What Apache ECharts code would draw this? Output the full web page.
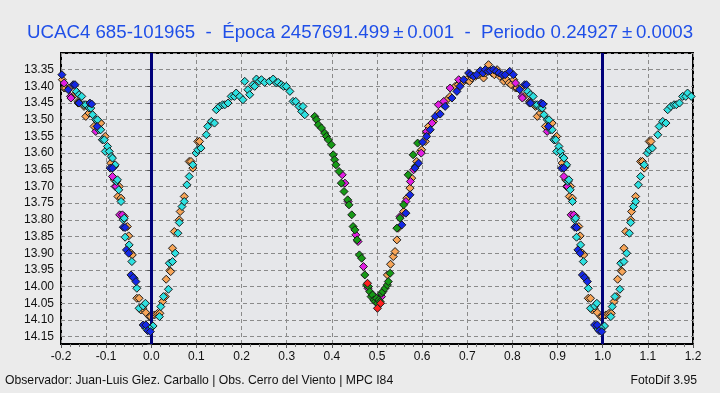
<!DOCTYPE html>
<html>
<head>
<meta charset="utf-8">
<script src="https://cdn.jsdelivr.net/npm/echarts@6/dist/echarts.min.js"></script>
<style>
html,body{margin:0;padding:0;background:#ebebeb;}
#chart{width:720px;height:393px;}
</style>
</head>
<body>
<div id="chart"></div>
<script>
// Phase-folded light curve, phases 0..1 (displayed wrapped to -0.2..1.2)
const titleText = 'UCAC4 685-101965  -  Época 2457691.499\u2009\u00b1\u20090.001  -  Periodo 0.24927\u2009\u00b1\u20090.0003';
const footerLeft = 'Observador: Juan-Luis Glez. Carballo | Obs. Cerro del Viento | MPC I84';
const footerRight = 'FotoDif 3.95';
const markerPhases = [0, 1];

const orangePts = [
[0.007,14.085],[0.014,14.08],[0.019,14.08],[0.025,14.045],[0.031,14.03],[0.033,13.978],[0.041,13.952],[0.043,13.955],
[0.047,13.885],[0.051,13.835],[0.062,13.80],[0.064,13.775],[0.073,13.73],[0.084,13.625],[0.088,13.625],[0.092,13.645],
[0.103,13.565],[0.107,13.565],
[0.523,13.965],[0.530,13.933],[0.536,13.91],[0.540,13.895],[0.544,13.86],[0.547,13.825],[0.559,13.775],[0.566,13.735],
[0.573,13.705],[0.577,13.675],[0.588,13.625],[0.596,13.595],[0.599,13.59],[0.607,13.565],[0.610,13.54],[0.614,13.52],
[0.625,13.505],[0.636,13.48],[0.647,13.455],[0.655,13.44],[0.662,13.43],[0.673,13.40],[0.680,13.395],[0.688,13.39],
[0.699,13.38],[0.705,13.385],[0.710,13.375],[0.718,13.37],[0.725,13.365],[0.736,13.375],[0.740,13.36],[0.747,13.335],
[0.755,13.36],[0.760,13.365],[0.766,13.35],[0.772,13.37],[0.781,13.385],[0.787,13.38],[0.792,13.39],[0.797,13.395],
[0.803,13.38],[0.807,13.405],[0.810,13.405],[0.818,13.405],[0.826,13.43],[0.838,13.445],[0.851,13.46],[0.855,13.49],
[0.862,13.48],[0.873,13.52],[0.881,13.52],[0.884,13.505],[0.888,13.51],[0.898,13.55],[0.910,13.63],[0.918,13.68],
[0.926,13.73],[0.929,13.70],[0.933,13.735],[0.936,13.79],[0.940,13.79],[0.947,13.82],[0.950,13.848],[0.955,13.90],
[0.958,13.905],[0.968,14.035],[0.973,14.035],[0.977,14.07],[0.981,14.065],[0.988,14.078],[0.996,14.09],[0.999,14.09]
];
const magentaPts = [
[0.423,13.665],[0.429,13.69],[0.436,13.745],[0.453,13.845],[0.458,13.865],[0.470,13.94],[0.480,14.005],[0.495,14.03],
[0.503,14.035],[0.510,14.03],[0.551,13.79],[0.564,13.745],[0.574,13.685],[0.581,13.65],[0.598,13.60],[0.610,13.535],
[0.622,13.51],[0.636,13.455],[0.648,13.445],[0.662,13.405],[0.681,13.38],[0.807,13.39],[0.821,13.43],[0.822,13.435],
[0.877,13.535],[0.892,13.56],[0.914,13.67],[0.920,13.70],[0.922,13.70],[0.930,13.785],[0.936,13.785]
];
const greenPts = [
[0.362,13.49],[0.366,13.50],[0.370,13.515],[0.377,13.525],[0.384,13.54],[0.388,13.55],[0.392,13.56],[0.399,13.575],
[0.403,13.605],[0.406,13.62],[0.409,13.635],[0.416,13.655],[0.421,13.69],[0.427,13.715],[0.435,13.74],[0.438,13.755],
[0.444,13.785],[0.447,13.82],[0.451,13.83],[0.456,13.86],[0.461,13.905],[0.466,13.915],[0.473,13.965],[0.477,13.995],
[0.481,14.00],[0.484,14.015],[0.487,14.03],[0.490,14.025],[0.493,14.04],[0.496,14.045],[0.499,14.035],[0.501,14.05],
[0.504,14.04],[0.507,14.045],[0.510,14.02],[0.513,14.015],[0.518,14.005],[0.523,13.995],[0.525,13.985],[0.529,13.96],
[0.544,13.825],[0.551,13.795],[0.559,13.755],[0.569,13.665],[0.580,13.605],[0.585,13.64],[0.590,13.57]
];
const redPts = [
[0.479,13.99],[0.501,14.065],[0.508,14.05]
];
const cyanPts = [
[0.004,14.118],[0.018,14.09],[0.021,14.06],[0.027,14.03],[0.038,14.008],[0.040,13.93],[0.047,13.925],[0.053,13.90],
[0.059,13.84],[0.062,13.808],[0.068,13.76],[0.073,13.745],[0.079,13.695],[0.084,13.67],[0.092,13.635],[0.099,13.60],
[0.103,13.59],[0.110,13.585],[0.122,13.545],[0.125,13.52],[0.133,13.505],[0.140,13.51],[0.144,13.47],[0.151,13.46],
[0.158,13.455],[0.163,13.455],[0.170,13.45],[0.177,13.43],[0.184,13.43],[0.188,13.42],[0.196,13.43],[0.203,13.44],
[0.207,13.385],[0.214,13.41],[0.218,13.425],[0.225,13.395],[0.229,13.40],[0.233,13.378],[0.239,13.385],[0.244,13.38],
[0.251,13.388],[0.262,13.385],[0.270,13.378],[0.277,13.39],[0.281,13.388],[0.288,13.395],[0.293,13.40],[0.299,13.40],
[0.307,13.415],[0.314,13.445],[0.320,13.445],[0.327,13.46],[0.333,13.475],[0.336,13.46],[0.340,13.485],
[0.834,13.415],[0.840,13.425],[0.846,13.43],[0.851,13.455],[0.855,13.455],[0.862,13.465],[0.866,13.465],[0.870,13.485],
[0.877,13.50],[0.881,13.50],[0.884,13.53],[0.888,13.53],[0.892,13.56],[0.896,13.56],[0.898,13.595],[0.903,13.58],
[0.907,13.595],[0.911,13.61],[0.914,13.615],[0.918,13.64],[0.920,13.635],[0.923,13.685],[0.925,13.68],[0.928,13.71],
[0.933,13.745],[0.938,13.80],[0.940,13.795],[0.942,13.852],[0.951,13.875],[0.957,13.925],[0.962,13.975],[0.968,14.005],
[0.973,14.065],[0.982,14.058],[0.987,14.05],[0.988,14.125],[0.996,14.125]
];
const bluePts = [
[0.555,13.815],[0.564,13.78],[0.573,13.725],[0.584,13.645],[0.592,13.63],[0.601,13.567],[0.610,13.55],[0.618,13.53],
[0.629,13.49],[0.640,13.483],[0.651,13.46],[0.666,13.435],[0.677,13.415],[0.684,13.40],[0.692,13.38],[0.703,13.36],
[0.708,13.365],[0.714,13.37],[0.721,13.365],[0.729,13.353],[0.735,13.36],[0.740,13.35],[0.746,13.355],[0.751,13.353],
[0.758,13.35],[0.764,13.355],[0.770,13.36],[0.777,13.365],[0.784,13.365],[0.794,13.355],[0.802,13.365],[0.816,13.41],
[0.827,13.395],[0.831,13.395],[0.838,13.45],[0.840,13.45],[0.864,13.45],[0.868,13.453],[0.880,13.52],[0.909,13.645],
[0.914,13.645],[0.938,13.822],[0.942,13.823],[0.945,13.89],[0.950,13.90],[0.955,13.965],[0.960,13.973],[0.966,13.985],
[0.982,14.115],[0.988,14.115],[0.992,14.132],[0.998,14.135]
];

// Phase wrapping (standard for folded light curves): repeat phases near the ends
function wrap(arr){
  const out = [];
  arr.forEach(p => {
    out.push(p);
    if (p[0] >= 0.8) out.push([+(p[0]-1).toFixed(4), p[1]]);
    if (p[0] <= 0.2) out.push([+(p[0]+1).toFixed(4), p[1]]);
  });
  return out;
}

const seriesDefs = [
  {name:'orange', data: orangePts, color:'#f7a558'},
  {name:'magenta', data: magentaPts, color:'#e21ee2'},
  {name:'green', data: greenPts, color:'#169a16'},
  {name:'red', data: redPts, color:'#ff2020'},
  {name:'cyan', data: cyanPts, color:'#2ee0e0'},
  {name:'blue', data: bluePts, color:'#1428e6'}
];

const FONT = 'Liberation Sans, Arial, sans-serif';
const chart = echarts.init(document.getElementById('chart'));
const series = seriesDefs.map((s,i) => ({
  type:'scatter', name:s.name, data: wrap(s.data), symbol:'diamond', symbolSize:8,
  itemStyle:{color:s.color, borderColor:'#1a1a1a', borderWidth:1, opacity:1},
  z: 3 + i
}));
series.unshift({
  type:'scatter', name:'phaseLines', data:[], z:2, silent:true,
  markLine:{
    silent:true, symbol:'none', animation:false,
    label:{show:false},
    lineStyle:{color:'#00007a', width:3, type:'solid'},
    data: markerPhases.map(v => ({xAxis:v}))
  }
});

chart.setOption({
  animation:false,
  backgroundColor:'#ebebeb',
  title:{
    text: titleText, left:'center', top:18,
    textStyle:{color:'#1f4fe8', fontSize:18.7, fontWeight:'normal', fontFamily:FONT}
  },
  grid:{left:61, right:27, top:53, bottom:49, show:true, backgroundColor:'#e6e7ea', borderColor:'#000', borderWidth:2},
  xAxis:{
    type:'value', min:-0.2, max:1.2, interval:0.1,
    axisLine:{show:true, lineStyle:{color:'#000', width:2}},
    axisTick:{show:true, length:4, lineStyle:{color:'#555'}},
    minorTick:{show:true, splitNumber:5, length:3, lineStyle:{color:'#777'}},
    axisLabel:{color:'#111', fontSize:12, fontFamily:FONT, margin:7,
      formatter: v => v.toFixed(1)},
    splitLine:{show:true, lineStyle:{color:'#8a8a8a', type:[4,3], width:1}}
  },
  yAxis:{
    type:'value', inverse:true, min:13.30, max:14.172, interval:0.05,
    axisLine:{show:true, lineStyle:{color:'#000', width:2}},
    axisTick:{show:true, length:4, lineStyle:{color:'#555'}},
    axisLabel:{color:'#111', fontSize:12, fontFamily:FONT, margin:7,
      formatter: v => (v < 13.33 || v > 14.16) ? '' : v.toFixed(2)},
    splitLine:{show:true, lineStyle:{color:'#8a8a8a', type:[4,3], width:1}}
  },
  graphic:[
    {type:'text', left:5, top:375, style:{text:footerLeft, fill:'#111', font:'12.2px ' + FONT}},
    {type:'text', right:23, top:375, style:{text:footerRight, fill:'#111', font:'12.2px ' + FONT}}
  ],
  series: series
});
</script>
</body>
</html>
